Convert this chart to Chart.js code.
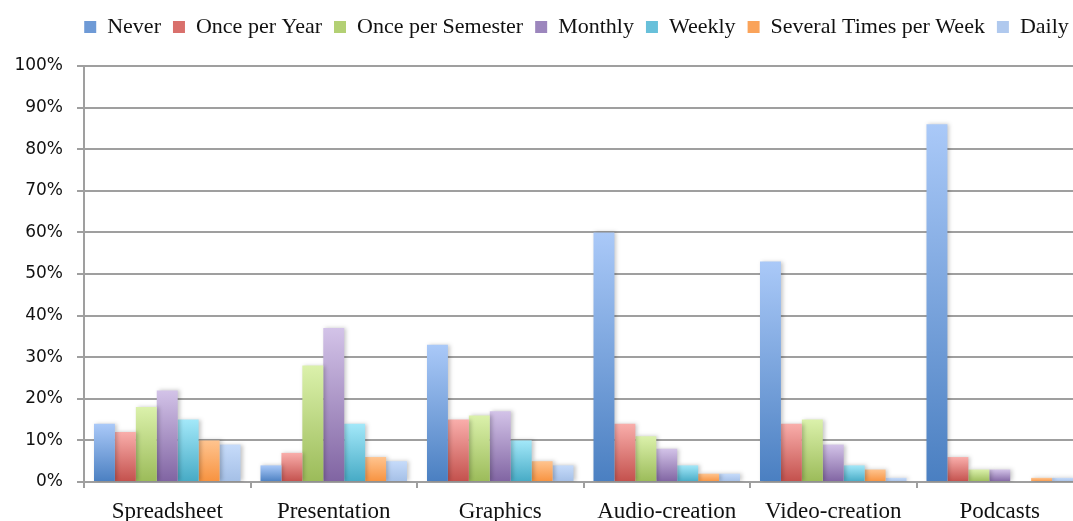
<!DOCTYPE html>
<html>
<head>
<meta charset="utf-8">
<script src="https://cdn.jsdelivr.net/npm/chart.js@4/dist/chart.umd.min.js"></script>
<style>
  html, body { margin: 0; padding: 0; background: #fff; overflow: hidden; }
  #wrap { position: relative; width: 1090px; height: 521px; }
</style>
</head>
<body>
<div id="wrap"><canvas id="freqChart"></canvas></div>
<script>
const CATEGORIES = ["Spreadsheet", "Presentation", "Graphics", "Audio-creation", "Video-creation", "Podcasts"];
const SERIES     = ["Never", "Once per Year", "Once per Semester", "Monthly", "Weekly", "Several Times per Week", "Daily"];

// percent of respondents, one array per frequency, in CATEGORIES order
const NEVER        = [14, 4, 33, 60, 53, 86];
const ONCE_YEAR    = [12, 7, 15, 14, 14, 6];
const ONCE_SEM     = [18, 28, 16, 11, 15, 3];
const MONTHLY      = [22, 37, 17, 8, 9, 3];
const WEEKLY       = [15, 14, 10, 4, 4, 0];
const SEVERAL_WEEK = [10, 6, 5, 2, 3, 1];
const DAILY        = [9, 5, 4, 2, 1, 1];

const Y_TICKS = [0, 10, 20, 30, 40, 50, 60, 70, 80, 90, 100];

const TOP_COLORS    = ["#aac9f8", "#f9aeab", "#dbf1ab", "#d3c3e8", "#a3e8f9", "#ffc48f", "#c6dbfa"];
const BOTTOM_COLORS = ["#4a7fc1", "#c3504c", "#9bbb59", "#8064a2", "#46aac5", "#f7923f", "#a4bfe6"];
const MID_COLORS    = ["#6e9ad6", "#d9706c", "#b3d074", "#9c86bd", "#68c0da", "#faa35a", "#b0c9ee"];

const gridGray = "#9f9f9f";
const serifFont = "'Liberation Serif', 'DejaVu Serif', serif";

const barGradient = i => ctx => {
    const chart = ctx.chart;
    if (ctx.type !== "data" || !chart.chartArea || !chart.scales.y) return MID_COLORS[i];
    const y = chart.scales.y;
    const top = y.getPixelForValue(ctx.raw);
    const bottom = y.getPixelForValue(0);
    if (bottom - top < 1) return BOTTOM_COLORS[i];
    const g = chart.ctx.createLinearGradient(0, top, 0, bottom);
    g.addColorStop(0, TOP_COLORS[i]);
    g.addColorStop(1, BOTTOM_COLORS[i]);
    return g;
};

const values = [NEVER, ONCE_YEAR, ONCE_SEM, MONTHLY, WEEKLY, SEVERAL_WEEK, DAILY];

const datasets = SERIES.map((name, i) => ({
    label: name,
    data: values[i],
    backgroundColor: barGradient(i),
    borderWidth: 0,
    categoryPercentage: 0.88,
    barPercentage: 1.0
}));

// soft drop shadow behind the bars, like the office chart
const barShadow = {
    id: "barShadow",
    beforeDatasetsDraw(chart) {
        const c = chart.ctx;
        c.save();
        c.shadowColor = "rgba(0,0,0,0.22)";
        c.shadowBlur = 4;
        c.shadowOffsetX = 2;
        c.shadowOffsetY = 0;
    },
    afterDatasetsDraw(chart) {
        chart.ctx.restore();
    }
};

// extra room under the legend, and nudge it right (the original was centred on a wider chart)
const LEGEND_GAP = 18;
const LEGEND_SHIFT = 35;
const legendSpace = {
    id: "legendSpace",
    beforeInit(chart) {
        const legend = chart.legend;
        const origFit = legend.fit;
        legend.fit = function () {
            origFit.call(this);
            this.height += LEGEND_GAP;
        };
    },
    afterLayout(chart) {
        chart.legend.left += LEGEND_SHIFT;
        chart.legend.right += LEGEND_SHIFT;
    }
};

const defaultLabels = Chart.defaults.plugins.legend.labels.generateLabels;

const ctx = document.getElementById("freqChart").getContext("2d");

new Chart(ctx, {
    type: "bar",
    data: { labels: CATEGORIES, datasets: datasets },
    plugins: [barShadow, legendSpace],
    options: {
        responsive: true,
        maintainAspectRatio: false,
        animation: false,
        layout: { padding: { top: 4, right: 7, left: 0, bottom: 0 } },
        plugins: {
            tooltip: { enabled: false },
            legend: {
                position: "top",
                align: "center",
                labels: {
                    boxWidth: 12,
                    boxHeight: 12,
                    padding: 12,
                    color: "#111",
                    font: { family: serifFont, size: 22 },
                    generateLabels: chart => defaultLabels(chart).map((item, i) => {
                        item.fillStyle = MID_COLORS[i];
                        item.lineWidth = 0;
                        return item;
                    })
                }
            }
        },
        scales: {
            x: {
                grid: {
                    display: true,
                    drawOnChartArea: false,
                    drawTicks: true,
                    tickLength: 6,
                    color: gridGray,
                    lineWidth: 2
                },
                border: { display: true, color: gridGray, width: 2 },
                ticks: {
                    color: "#111",
                    padding: 10,
                    font: { family: serifFont, size: 23 }
                },
                afterFit: scale => { scale.height = 39; }
            },
            y: {
                min: 0,
                max: 100,
                afterBuildTicks: scale => { scale.ticks = Y_TICKS.map(v => ({ value: v })); },
                grid: {
                    color: gridGray,
                    lineWidth: 2,
                    tickLength: 7
                },
                border: { display: true, color: gridGray, width: 2 },
                ticks: {
                    color: "#111",
                    padding: 14,
                    font: { family: "'DejaVu Sans', sans-serif", size: 17 },
                    callback: v => v + "%"
                },
                afterFit: scale => { scale.width = 84; }
            }
        }
    }
});
</script>
</body>
</html>
